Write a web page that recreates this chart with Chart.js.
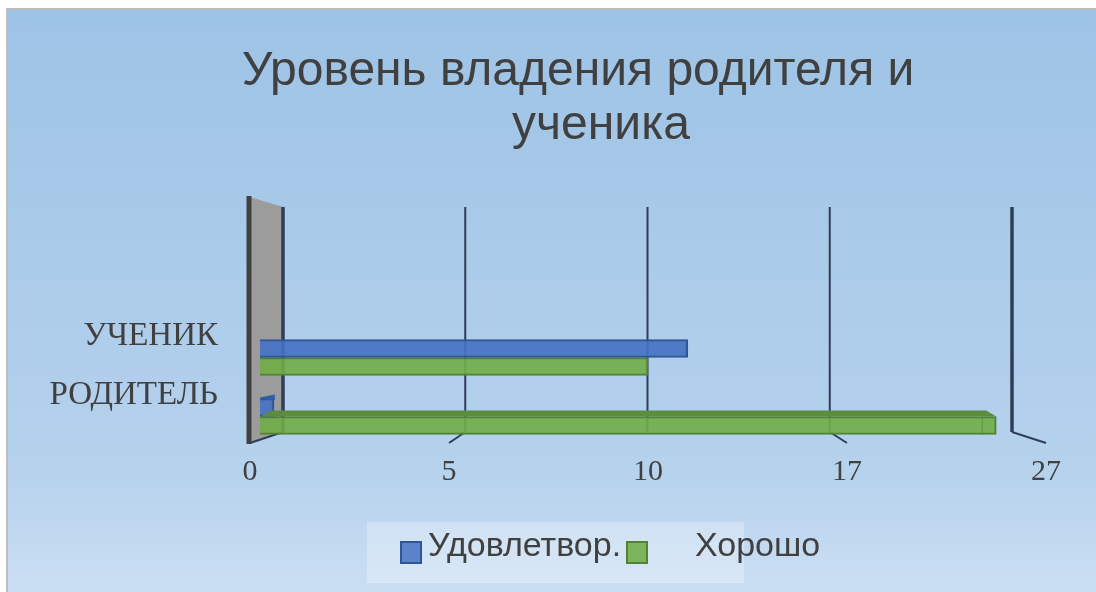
<!DOCTYPE html>
<html lang="ru">
<head>
<meta charset="utf-8">
<title>Уровень владения родителя и ученика</title>
<script src="https://cdn.jsdelivr.net/npm/chart.js@4/dist/chart.umd.js"></script>
<style>
  html, body { margin: 0; padding: 0; background: #fff; overflow: hidden; }
  #wrap { position: relative; width: 1096px; height: 592px; }
  canvas { display: block; filter: blur(0.5px); }
</style>
</head>
<body>
<div id="wrap"><canvas id="chart" width="1096" height="592"></canvas></div>
<script>
const titleLines = ['Уровень владения родителя и', 'ученика']
const categories = ['УЧЕНИК', 'РОДИТЕЛЬ']
const seriesNames = ['Удовлетвор.', 'Хорошо']
const satisfactory = [11.4, 0.6]
const good = [10, 24.5]
const tickValues = [0, 5, 10, 17, 27]
const barBase = 0.25 // bars start a little off the wall

const blue = 'rgba(68,114,196,0.9)'
const blueEdge = '#2f5597'
const green = 'rgba(112,173,71,0.9)'
const greenEdge = '#548235'
const textColor = '#404040'
const lineColor = '#2f3d57'

// the axis labels are evenly spaced although the values are not
class PiecewiseScale extends Chart.LinearScale {
  buildTicks() {
    return tickValues.map(v => ({ value: v }))
  }
  getPixelForValue(value) {
    let i = 0
    while (i < tickValues.length - 2 && value > tickValues[i + 1]) i++
    const part = (value - tickValues[i]) / (tickValues[i + 1] - tickValues[i])
    return this.getPixelForDecimal((i + part) / (tickValues.length - 1))
  }
}
PiecewiseScale.id = 'piecewise'
PiecewiseScale.defaults = Chart.LinearScale.defaults
Chart.register(PiecewiseScale)

function poly(ctx, pts, fill, stroke, width) {
  ctx.beginPath()
  pts.forEach((p, i) => i ? ctx.lineTo(p[0], p[1]) : ctx.moveTo(p[0], p[1]))
  ctx.closePath()
  if (fill) { ctx.fillStyle = fill; ctx.fill() }
  if (stroke) { ctx.strokeStyle = stroke; ctx.lineWidth = width || 1; ctx.stroke() }
}

function line(ctx, x1, y1, x2, y2, color, width) {
  ctx.beginPath()
  ctx.moveTo(x1, y1)
  ctx.lineTo(x2, y2)
  ctx.strokeStyle = color
  ctx.lineWidth = width
  ctx.stroke()
}

const backdrop = {
  id: 'backdrop',
  beforeDraw(chart) {
    const ctx = chart.ctx
    ctx.save()
    const g = ctx.createLinearGradient(0, 8, 0, 592)
    g.addColorStop(0, '#9dc3e6')
    g.addColorStop(0.8, '#b6d2ed')
    g.addColorStop(1, '#cbdff3')
    ctx.fillStyle = g
    ctx.fillRect(7, 9, 1089, 583)
    ctx.fillStyle = '#bdbdbd'
    ctx.fillRect(6, 8, 1090, 2)
    ctx.fillRect(6, 8, 2, 584)

    ctx.fillStyle = textColor
    ctx.font = '48px "Liberation Sans"'
    ctx.textAlign = 'center'
    ctx.textBaseline = 'alphabetic'
    ctx.fillText(titleLines[0], 578, 85)
    ctx.fillText(titleLines[1], 601, 139)

    ctx.fillStyle = 'rgba(255,255,255,0.27)'
    ctx.fillRect(367, 522, 377, 61)
    ctx.restore()
  },
  beforeDatasetsDraw(chart) {
    const ctx = chart.ctx
    const x = chart.scales.x
    const left = x.getPixelForValue(0)
    const k = (1012 - 283) / (x.getPixelForValue(27) - left)
    ctx.save()
    poly(ctx, [[250, 197], [283, 207], [283, 432], [250, 443]], '#9c9c9c')
    tickValues.forEach(v => {
      const px = x.getPixelForValue(v)
      const back = 283 + (px - left) * k
      const heavy = v === 0 || v === 27
      line(ctx, back, 207, back, 432, lineColor, heavy ? 3.5 : 2)
      // no foot shows under the 10 line in the original
      if (v !== 10) line(ctx, back, 432, px, 443, lineColor, 2)
    })
    line(ctx, 249, 196, 249, 444, '#404040', 5)
    ctx.restore()
  },
  afterDatasetsDraw(chart) {
    const ctx = chart.ctx
    ctx.save()
    // depth faces of the lower row
    const b = chart.getDatasetMeta(0).data[1]
    const g = chart.getDatasetMeta(1).data[1]
    const bTop = b.y - b.height / 2
    poly(ctx, [[b.base, bTop], [b.base, bTop - 1], [b.x + 1, bTop - 4], [b.x + 1, bTop + 2]], '#2f5fa5')
    const gTop = g.y - g.height / 2
    poly(ctx, [[g.base, gTop], [g.base + 12, gTop - 6], [g.x - 10, gTop - 6], [g.x, gTop]], '#5c8c3f')
    line(ctx, g.x - 14, gTop, g.x - 14, gTop + g.height, 'rgba(84,130,53,0.45)', 1.5)

    // legend
    ctx.font = '34px "Liberation Sans"'
    ctx.textAlign = 'left'
    ctx.textBaseline = 'alphabetic'
    ctx.fillStyle = textColor
    ctx.fillText(seriesNames[0], 428, 556)
    ctx.fillText(seriesNames[1], 695, 556)
    ctx.fillStyle = '#5a83cb'
    ctx.strokeStyle = blueEdge
    ctx.lineWidth = 2
    ctx.fillRect(401, 542, 20, 21)
    ctx.strokeRect(401, 542, 20, 21)
    ctx.fillStyle = '#7cb45c'
    ctx.strokeStyle = greenEdge
    ctx.fillRect(627, 542, 20, 21)
    ctx.strokeRect(627, 542, 20, 21)
    ctx.restore()
  }
}

new Chart(document.getElementById('chart'), {
  type: 'bar',
  plugins: [backdrop],
  data: {
    labels: categories,
    datasets: [
      {
        label: seriesNames[0],
        data: satisfactory,
        base: barBase,
        backgroundColor: blue,
        borderColor: blueEdge,
        borderWidth: 2
      },
      {
        label: seriesNames[1],
        data: good,
        base: barBase,
        backgroundColor: green,
        borderColor: greenEdge,
        borderWidth: 2
      }
    ]
  },
  options: {
    indexAxis: 'y',
    responsive: false,
    animation: false,
    barThickness: 18,
    layout: { padding: { top: 328, right: 50, left: 0, bottom: 0 } },
    plugins: {
      legend: { display: false },
      title: { display: false },
      tooltip: { enabled: false }
    },
    scales: {
      x: {
        type: 'piecewise',
        min: 0,
        max: 27,
        grid: { display: false },
        border: { display: false },
        afterFit: s => { s.height = 146 },
        ticks: {
          color: textColor,
          padding: 0,
          maxRotation: 0,
          autoSkip: false,
          font: { family: '"Liberation Serif"', size: 30 }
        }
      },
      y: {
        grid: { display: false },
        border: { display: false },
        afterFit: s => { s.width = 250 },
        ticks: {
          color: textColor,
          padding: 24,
          labelOffset: -21,
          font: { family: '"Liberation Serif"', size: 33 }
        }
      }
    }
  }
})
</script>
</body>
</html>
